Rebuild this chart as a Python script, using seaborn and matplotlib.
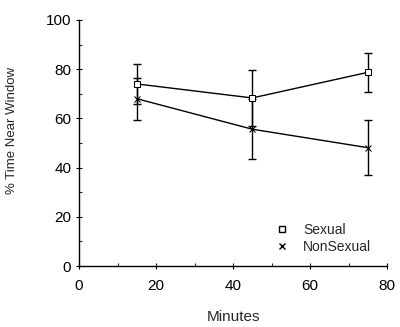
import matplotlib
matplotlib.use("Agg")
import matplotlib.pyplot as plt
import seaborn as sns
import pandas as pd
from matplotlib.ticker import MultipleLocator
from matplotlib.lines import Line2D

minutes = [15, 45, 75]
sexual = [74, 68.3, 78.7]
sexual_err = [8.3, 11.4, 7.9]
nonsexual = [68, 55.6, 48.1]
nonsexual_err = [8.5, 12.2, 11.3]

sns.set_style("ticks")
plt.rcParams['font.family'] = ['Liberation Sans', 'DejaVu Sans']

df = pd.DataFrame({
    "Minutes": minutes * 2,
    "Value": sexual + nonsexual,
    "Group": ["Sexual"] * 3 + ["NonSexual"] * 3,
})

fig = plt.figure(figsize=(4, 3.27), dpi=100)
ax = fig.add_axes([0.1975, 0.1865, 0.77, 0.7525])

sns.lineplot(data=df, x="Minutes", y="Value", hue="Group", style="Group",
             markers={"Sexual": "s", "NonSexual": "X"}, dashes=False,
             palette={"Sexual": "black", "NonSexual": "black"},
             linewidth=1.0, markersize=5, ax=ax, legend=False)
lines = ax.get_lines()
if len(lines) >= 2:
    lines[0].set_marker("s"); lines[0].set_markerfacecolor("white")
    lines[0].set_markeredgecolor("black"); lines[0].set_markersize(5)
    lines[1].set_marker("x"); lines[1].set_markeredgecolor("black"); lines[1].set_markersize(5)
    lines[0].set_zorder(4)

ax.errorbar(minutes, sexual, yerr=sexual_err, fmt="none", ecolor="black",
            elinewidth=1.0, capsize=3, capthick=1.0)
ax.errorbar(minutes, nonsexual, yerr=nonsexual_err, fmt="none", ecolor="black",
            elinewidth=1.0, capsize=3, capthick=1.0)

ax.set_xlim(0, 80)
ax.set_ylim(0, 100)
ax.xaxis.set_major_locator(MultipleLocator(20))
ax.xaxis.set_minor_locator(MultipleLocator(10))
ax.yaxis.set_major_locator(MultipleLocator(20))
ax.yaxis.set_minor_locator(MultipleLocator(10))
ax.tick_params(axis="both", which="major", direction="inout", length=5, width=0.8, labelsize=11, colors="black")
ax.tick_params(axis="x", which="major", pad=7)
ax.tick_params(axis="y", which="major", pad=3)
ax.tick_params(axis="both", which="minor", direction="in", length=2.5, width=0.8)
sns.despine(ax=ax)
for s in ["left", "bottom"]:
    ax.spines[s].set_linewidth(1.0)
    ax.spines[s].set_color("black")

ax.set_xlabel("Minutes", fontsize=11, labelpad=12)
ax.set_ylabel("% Time Near Window", fontsize=9.5)
ax.yaxis.set_label_coords(-0.198, 0.553)

handles = [Line2D([], [], marker="s", markersize=4, markerfacecolor="white", markeredgecolor="black", linestyle="none"),
           Line2D([], [], marker="x", markersize=4, markeredgecolor="black", linestyle="none")]
ax.legend(handles, ["Sexual", "NonSexual"], loc="lower right", frameon=False,
          fontsize=10, handlelength=1.0, handletextpad=1.0, labelspacing=0.2,
          bbox_to_anchor=(0.99, 0.0))

fig.savefig("out.png", dpi=100)
